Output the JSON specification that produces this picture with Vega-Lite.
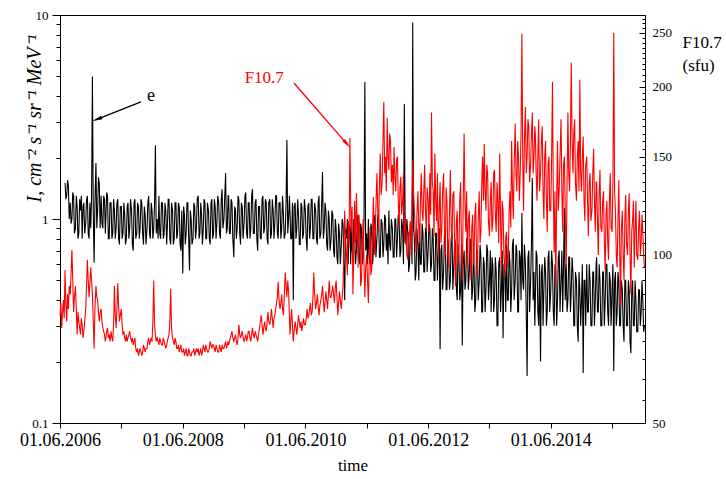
{
"$schema": "https://vega.github.io/schema/vega-lite/v6.json",
"width": 585, "height": 408,
"autosize": {"type": "none"},
"padding": {"left": 60, "top": 15, "right": 81, "bottom": 56},
"config": {"font": "Liberation Serif", "view": {"stroke": "black", "strokeWidth": 1},
 "text": {"font": "Liberation Serif"},
 "axis": {"labelFont": "Liberation Serif", "titleFont": "Liberation Serif", "domainColor": "black", "tickColor": "black", "labelColor": "black", "titleColor": "black", "grid": false, "labelFlush": false, "labelOverlap": false, "domainWidth": 1, "tickWidth": 1, "titleFontWeight": "normal"}},
"datasets": {"s": [
{"d":"2006-06-01","f":78},{"d":"2006-06-06","f":82},{"d":"2006-06-11","f":74},{"d":"2006-06-16","f":79},{"d":"2006-06-21","f":83},{"d":"2006-06-26","f":77},
{"d":"2006-07-01","e":1.5,"f":94},{"d":"2006-07-06","e":1.25,"f":82},{"d":"2006-07-11","e":1.3,"f":76},{"d":"2006-07-16","e":1.55,"f":85},{"d":"2006-07-21","e":1.45,"f":80},{"d":"2006-07-26","e":1.0,"f":88},
{"d":"2006-08-01","e":1.2,"f":85},{"d":"2006-08-06","e":0.95,"f":93},{"d":"2006-08-11","e":1.0,"f":102},{"d":"2006-08-16","e":1.35,"f":90},{"d":"2006-08-21","e":1.3,"f":79},{"d":"2006-08-26","e":0.85,"f":84},
{"d":"2006-09-01","e":0.9,"f":88},{"d":"2006-09-06","e":1.3,"f":80},{"d":"2006-09-11","e":1.15,"f":72},{"d":"2006-09-16","e":0.8,"f":79},{"d":"2006-09-21","e":0.85,"f":76},{"d":"2006-09-26","e":1.25,"f":74},
{"d":"2006-10-01","e":1.1,"f":72},{"d":"2006-10-06","e":1.3,"f":77},{"d":"2006-10-11","e":0.8,"f":75},{"d":"2006-10-16","e":1.15,"f":71},{"d":"2006-10-21","e":1.2,"f":73},{"d":"2006-10-26","e":0.85,"f":76},
{"d":"2006-11-01","e":0.95,"f":80},{"d":"2006-11-06","e":1.25,"f":88},{"d":"2006-11-11","e":1.3,"f":98},{"d":"2006-11-16","e":0.85,"f":90},{"d":"2006-11-21","e":0.8,"f":84},{"d":"2006-11-26","e":1.2,"f":89},
{"d":"2006-12-01","e":0.9,"f":95},{"d":"2006-12-06","e":1.3,"f":90},{"d":"2006-12-11","e":5.0,"f":85},{"d":"2006-12-16","e":1.1,"f":76},{"d":"2006-12-21","e":0.61,"f":68},{"d":"2006-12-26","e":1.2,"f":80},
{"d":"2007-01-01","e":1.88,"f":88},{"d":"2007-01-06","e":0.9,"f":84},{"d":"2007-01-11","e":1.1,"f":83},{"d":"2007-01-16","e":1.6,"f":79},{"d":"2007-01-21","e":1.5,"f":76},{"d":"2007-01-26","e":0.9,"f":79},
{"d":"2007-02-01","e":1.3,"f":80},{"d":"2007-02-06","e":0.95,"f":76},{"d":"2007-02-11","e":0.9,"f":74},{"d":"2007-02-16","e":1.3,"f":73},{"d":"2007-02-21","e":1.25,"f":72},{"d":"2007-02-26","e":0.85,"f":70},
{"d":"2007-03-01","e":1.0,"f":71},{"d":"2007-03-06","e":1.35,"f":73},{"d":"2007-03-11","e":1.3,"f":74},{"d":"2007-03-16","e":0.8,"f":71},{"d":"2007-03-21","e":0.8,"f":72},{"d":"2007-03-26","e":1.2,"f":70},
{"d":"2007-04-01","e":1.2,"f":73},{"d":"2007-04-06","e":0.8,"f":71},{"d":"2007-04-11","e":0.85,"f":70},{"d":"2007-04-16","e":1.25,"f":75},{"d":"2007-04-21","e":1.1,"f":88},{"d":"2007-04-26","e":0.8,"f":78},
{"d":"2007-05-01","e":0.9,"f":74},{"d":"2007-05-06","e":1.2,"f":80},{"d":"2007-05-11","e":1.25,"f":89},{"d":"2007-05-16","e":0.8,"f":81},{"d":"2007-05-21","e":0.75,"f":76},{"d":"2007-05-26","e":1.15,"f":78},
{"d":"2007-06-01","e":1.15,"f":80},{"d":"2007-06-06","e":0.8,"f":75},{"d":"2007-06-11","e":0.85,"f":72},{"d":"2007-06-16","e":1.2,"f":73},{"d":"2007-06-21","e":1.05,"f":71},{"d":"2007-06-26","e":0.75,"f":70},
{"d":"2007-07-01","e":0.8,"f":72},{"d":"2007-07-06","e":1.15,"f":70},{"d":"2007-07-11","e":1.2,"f":71},{"d":"2007-07-16","e":0.8,"f":72},{"d":"2007-07-21","e":0.9,"f":73},{"d":"2007-07-26","e":1.25,"f":71},
{"d":"2007-08-01","e":1.1,"f":70},{"d":"2007-08-06","e":0.75,"f":71},{"d":"2007-08-11","e":0.7,"f":69},{"d":"2007-08-16","e":1.2,"f":70},{"d":"2007-08-21","e":1.25,"f":71},{"d":"2007-08-26","e":0.8,"f":68},
{"d":"2007-09-01","e":0.85,"f":67},{"d":"2007-09-06","e":1.2,"f":68},{"d":"2007-09-11","e":1.15,"f":66},{"d":"2007-09-16","e":0.8,"f":67},{"d":"2007-09-21","e":0.9,"f":68},{"d":"2007-09-26","e":1.25,"f":67},
{"d":"2007-10-01","e":1.2,"f":66},{"d":"2007-10-06","e":0.85,"f":67},{"d":"2007-10-11","e":0.75,"f":69},{"d":"2007-10-16","e":1.15,"f":68},{"d":"2007-10-21","e":1.05,"f":67},{"d":"2007-10-26","e":0.75,"f":68},
{"d":"2007-11-01","e":0.9,"f":68},{"d":"2007-11-06","e":1.2,"f":70},{"d":"2007-11-11","e":1.3,"f":71},{"d":"2007-11-16","e":0.85,"f":69},{"d":"2007-11-21","e":0.8,"f":70},{"d":"2007-11-26","e":1.2,"f":71},
{"d":"2007-12-01","e":1.1,"f":70},{"d":"2007-12-06","e":0.8,"f":76},{"d":"2007-12-11","e":0.9,"f":90},{"d":"2007-12-16","e":1.2,"f":75},{"d":"2007-12-21","e":2.3,"f":72},{"d":"2007-12-26","e":0.85,"f":70},
{"d":"2008-01-01","e":1.0,"f":71},{"d":"2008-01-06","e":0.8,"f":70},{"d":"2008-01-11","e":1.3,"f":69},{"d":"2008-01-16","e":0.85,"f":71},{"d":"2008-01-21","e":0.8,"f":70},{"d":"2008-01-26","e":1.2,"f":69},
{"d":"2008-02-01","e":1.2,"f":69},{"d":"2008-02-06","e":0.8,"f":71},{"d":"2008-02-11","e":0.85,"f":70},{"d":"2008-02-16","e":1.2,"f":69},{"d":"2008-02-21","e":1.1,"f":68},{"d":"2008-02-26","e":0.75,"f":69},
{"d":"2008-03-01","e":0.9,"f":70},{"d":"2008-03-06","e":1.25,"f":71},{"d":"2008-03-11","e":1.25,"f":72},{"d":"2008-03-16","e":0.8,"f":76},{"d":"2008-03-21","e":0.75,"f":87},{"d":"2008-03-26","e":1.2,"f":74},
{"d":"2008-04-01","e":1.1,"f":71},{"d":"2008-04-06","e":0.75,"f":70},{"d":"2008-04-11","e":0.8,"f":69},{"d":"2008-04-16","e":1.2,"f":71},{"d":"2008-04-21","e":1.2,"f":70},{"d":"2008-04-26","e":0.8,"f":68},
{"d":"2008-05-01","e":0.85,"f":68},{"d":"2008-05-06","e":1.2,"f":69},{"d":"2008-05-11","e":1.15,"f":67},{"d":"2008-05-16","e":0.75,"f":68},{"d":"2008-05-21","e":0.7,"f":69},{"d":"2008-05-26","e":1.1,"f":67},
{"d":"2008-06-01","e":0.54,"f":67},{"d":"2008-06-06","e":1.15,"f":68},{"d":"2008-06-11","e":1.05,"f":66},{"d":"2008-06-16","e":0.75,"f":67},{"d":"2008-06-21","e":0.85,"f":68},{"d":"2008-06-26","e":1.2,"f":66},
{"d":"2008-07-01","e":1.2,"f":66},{"d":"2008-07-06","e":0.8,"f":68},{"d":"2008-07-11","e":0.56,"f":67},{"d":"2008-07-16","e":1.1,"f":66},{"d":"2008-07-21","e":1.0,"f":66},{"d":"2008-07-26","e":0.75,"f":67},
{"d":"2008-08-01","e":0.8,"f":67},{"d":"2008-08-06","e":1.2,"f":68},{"d":"2008-08-11","e":1.15,"f":66},{"d":"2008-08-16","e":0.8,"f":67},{"d":"2008-08-21","e":0.9,"f":68},{"d":"2008-08-26","e":1.25,"f":67},
{"d":"2008-09-01","e":1.3,"f":68},{"d":"2008-09-06","e":0.8,"f":66},{"d":"2008-09-11","e":0.85,"f":67},{"d":"2008-09-16","e":1.2,"f":68},{"d":"2008-09-21","e":1.05,"f":66},{"d":"2008-09-26","e":0.75,"f":67},
{"d":"2008-10-01","e":0.9,"f":69},{"d":"2008-10-06","e":1.25,"f":68},{"d":"2008-10-11","e":1.2,"f":67},{"d":"2008-10-16","e":0.8,"f":69},{"d":"2008-10-21","e":0.8,"f":68},{"d":"2008-10-26","e":1.2,"f":67},
{"d":"2008-11-01","e":1.1,"f":67},{"d":"2008-11-06","e":0.8,"f":68},{"d":"2008-11-11","e":0.75,"f":70},{"d":"2008-11-16","e":1.2,"f":69},{"d":"2008-11-21","e":1.25,"f":68},{"d":"2008-11-26","e":0.8,"f":69},
{"d":"2008-12-01","e":0.85,"f":69},{"d":"2008-12-06","e":1.25,"f":68},{"d":"2008-12-11","e":1.15,"f":67},{"d":"2008-12-16","e":0.8,"f":69},{"d":"2008-12-21","e":0.95,"f":68},{"d":"2008-12-26","e":1.3,"f":67},
{"d":"2009-01-01","e":1.2,"f":67},{"d":"2009-01-06","e":0.85,"f":69},{"d":"2009-01-11","e":0.8,"f":68},{"d":"2009-01-16","e":1.25,"f":67},{"d":"2009-01-21","e":1.4,"f":69},{"d":"2009-01-26","e":0.9,"f":68},
{"d":"2009-02-01","e":1.0,"f":68},{"d":"2009-02-06","e":1.3,"f":69},{"d":"2009-02-11","e":1.68,"f":70},{"d":"2009-02-16","e":0.85,"f":68},{"d":"2009-02-21","e":0.9,"f":69},{"d":"2009-02-26","e":1.3,"f":70},
{"d":"2009-03-01","e":1.3,"f":69},{"d":"2009-03-06","e":0.85,"f":70},{"d":"2009-03-11","e":0.85,"f":71},{"d":"2009-03-16","e":1.25,"f":72},{"d":"2009-03-21","e":1.2,"f":73},{"d":"2009-03-26","e":0.8,"f":71},
{"d":"2009-04-01","e":0.65,"f":70},{"d":"2009-04-06","e":1.15,"f":71},{"d":"2009-04-11","e":1.1,"f":72},{"d":"2009-04-16","e":0.8,"f":70},{"d":"2009-04-21","e":0.9,"f":69},{"d":"2009-04-26","e":1.3,"f":71},
{"d":"2009-05-01","e":1.25,"f":75},{"d":"2009-05-06","e":0.85,"f":72},{"d":"2009-05-11","e":0.75,"f":71},{"d":"2009-05-16","e":1.2,"f":72},{"d":"2009-05-21","e":1.15,"f":73},{"d":"2009-05-26","e":0.8,"f":71},
{"d":"2009-06-01","e":0.95,"f":70},{"d":"2009-06-06","e":1.3,"f":71},{"d":"2009-06-11","e":1.35,"f":72},{"d":"2009-06-16","e":0.85,"f":70},{"d":"2009-06-21","e":0.8,"f":71},{"d":"2009-06-26","e":1.2,"f":73},
{"d":"2009-07-01","e":1.2,"f":73},{"d":"2009-07-06","e":0.8,"f":71},{"d":"2009-07-11","e":0.9,"f":70},{"d":"2009-07-16","e":1.3,"f":72},{"d":"2009-07-21","e":1.4,"f":74},{"d":"2009-07-26","e":0.85,"f":72},
{"d":"2009-08-01","e":0.85,"f":71},{"d":"2009-08-06","e":1.2,"f":73},{"d":"2009-08-11","e":1.25,"f":72},{"d":"2009-08-16","e":0.8,"f":71},{"d":"2009-08-21","e":0.7,"f":70},{"d":"2009-08-26","e":1.15,"f":72},
{"d":"2009-09-01","e":1.15,"f":74},{"d":"2009-09-06","e":0.8,"f":76},{"d":"2009-09-11","e":0.8,"f":78},{"d":"2009-09-16","e":1.25,"f":75},{"d":"2009-09-21","e":1.3,"f":72},{"d":"2009-09-26","e":0.85,"f":74},
{"d":"2009-10-01","e":0.9,"f":76},{"d":"2009-10-06","e":1.25,"f":74},{"d":"2009-10-11","e":1.2,"f":73},{"d":"2009-10-16","e":0.8,"f":76},{"d":"2009-10-21","e":0.75,"f":79},{"d":"2009-10-26","e":1.2,"f":76},
{"d":"2009-11-01","e":1.25,"f":75},{"d":"2009-11-06","e":0.8,"f":77},{"d":"2009-11-11","e":0.85,"f":80},{"d":"2009-11-16","e":1.25,"f":77},{"d":"2009-11-21","e":1.1,"f":74},{"d":"2009-11-26","e":0.8,"f":77},
{"d":"2009-12-01","e":0.95,"f":78},{"d":"2009-12-06","e":1.3,"f":80},{"d":"2009-12-11","e":1.3,"f":82},{"d":"2009-12-16","e":0.85,"f":84},{"d":"2009-12-21","e":0.8,"f":89.5},{"d":"2009-12-26","e":1.2,"f":83},
{"d":"2010-01-01","e":1.2,"f":80},{"d":"2010-01-06","e":0.8,"f":82},{"d":"2010-01-11","e":0.9,"f":85},{"d":"2010-01-16","e":1.3,"f":80},{"d":"2010-01-21","e":1.05,"f":78},{"d":"2010-01-26","e":0.8,"f":84},
{"d":"2010-02-01","e":0.85,"f":93},{"d":"2010-02-06","e":1.2,"f":88},{"d":"2010-02-11","e":2.44,"f":84},{"d":"2010-02-16","e":0.85,"f":90},{"d":"2010-02-21","e":1.0,"f":86},{"d":"2010-02-26","e":1.3,"f":78},
{"d":"2010-03-01","e":1.1,"f":72},{"d":"2010-03-06","e":0.8,"f":76},{"d":"2010-03-11","e":0.8,"f":80},{"d":"2010-03-16","e":1.2,"f":75},{"d":"2010-03-21","e":0.4,"f":70},{"d":"2010-03-26","e":1.15,"f":73},
{"d":"2010-04-01","e":1.2,"f":76},{"d":"2010-04-06","e":0.8,"f":74},{"d":"2010-04-11","e":0.9,"f":72},{"d":"2010-04-16","e":1.25,"f":75},{"d":"2010-04-21","e":1.05,"f":78},{"d":"2010-04-26","e":0.75,"f":76},
{"d":"2010-05-01","e":0.75,"f":74},{"d":"2010-05-06","e":1.2,"f":76},{"d":"2010-05-11","e":1.15,"f":73},{"d":"2010-05-16","e":0.8,"f":75},{"d":"2010-05-21","e":0.85,"f":77},{"d":"2010-05-26","e":1.25,"f":75},
{"d":"2010-06-01","e":1.1,"f":75},{"d":"2010-06-06","e":0.8,"f":77},{"d":"2010-06-11","e":0.7,"f":80},{"d":"2010-06-16","e":1.15,"f":77},{"d":"2010-06-21","e":1.2,"f":78},{"d":"2010-06-26","e":0.8,"f":80},
{"d":"2010-07-01","e":0.9,"f":82},{"d":"2010-07-06","e":1.25,"f":78},{"d":"2010-07-11","e":1.25,"f":79},{"d":"2010-07-16","e":0.8,"f":84},{"d":"2010-07-21","e":0.8,"f":93},{"d":"2010-07-26","e":1.2,"f":85},
{"d":"2010-08-01","e":1.1,"f":80},{"d":"2010-08-06","e":0.8,"f":82},{"d":"2010-08-11","e":0.75,"f":85},{"d":"2010-08-16","e":1.2,"f":81},{"d":"2010-08-21","e":1.3,"f":78},{"d":"2010-08-26","e":0.8,"f":81},
{"d":"2010-09-01","e":0.85,"f":83},{"d":"2010-09-06","e":1.2,"f":85},{"d":"2010-09-11","e":1.7,"f":88},{"d":"2010-09-16","e":0.8,"f":83},{"d":"2010-09-21","e":0.9,"f":79},{"d":"2010-09-26","e":1.2,"f":82},
{"d":"2010-10-01","e":1.1,"f":86},{"d":"2010-10-06","e":0.75,"f":83},{"d":"2010-10-11","e":0.7,"f":80},{"d":"2010-10-16","e":1.1,"f":85},{"d":"2010-10-21","e":1.0,"f":90},{"d":"2010-10-26","e":0.7,"f":84},
{"d":"2010-11-01","e":0.8,"f":84},{"d":"2010-11-06","e":1.1,"f":86},{"d":"2010-11-11","e":1.05,"f":88},{"d":"2010-11-16","e":0.7,"f":85},{"d":"2010-11-21","e":0.65,"f":82},{"d":"2010-11-26","e":1.0,"f":87},
{"d":"2010-12-01","e":0.9,"f":90},{"d":"2010-12-06","e":0.65,"f":84},{"d":"2010-12-11","e":0.6,"f":78},{"d":"2010-12-16","e":0.95,"f":82},{"d":"2010-12-21","e":0.85,"f":86},{"d":"2010-12-26","e":0.6,"f":83},
{"d":"2011-01-01","e":0.75,"f":80},{"d":"2011-01-06","e":1.0,"f":84},{"d":"2011-01-11","e":0.95,"f":88},{"d":"2011-01-16","e":0.6,"f":100},{"d":"2011-01-21","e":0.4,"f":120},{"d":"2011-01-26","e":0.9,"f":108},
{"d":"2011-02-01","e":0.8,"f":100},{"d":"2011-02-06","e":1.0,"f":92},{"d":"2011-02-11","e":0.6,"f":115},{"d":"2011-02-16","e":0.95,"f":105},{"d":"2011-02-21","e":0.9,"f":162},{"d":"2011-02-26","e":0.6,"f":120},
{"d":"2011-03-01","e":1.0,"f":110},{"d":"2011-03-06","e":0.7,"f":122},{"d":"2011-03-11","e":0.65,"f":85},{"d":"2011-03-16","e":1.0,"f":100},{"d":"2011-03-21","e":0.9,"f":125},{"d":"2011-03-26","e":0.6,"f":105},
{"d":"2011-04-01","e":0.7,"f":129},{"d":"2011-04-06","e":1.0,"f":110},{"d":"2011-04-11","e":1.05,"f":95},{"d":"2011-04-16","e":0.65,"f":118},{"d":"2011-04-21","e":0.6,"f":110},{"d":"2011-04-26","e":0.95,"f":88},
{"d":"2011-05-01","e":0.9,"f":90},{"d":"2011-05-06","e":0.6,"f":105},{"d":"2011-05-11","e":0.65,"f":116},{"d":"2011-05-16","e":1.0,"f":96},{"d":"2011-05-21","e":4.7,"f":84},{"d":"2011-05-26","e":0.7,"f":95},
{"d":"2011-06-01","e":0.85,"f":100},{"d":"2011-06-06","e":0.6,"f":90},{"d":"2011-06-11","e":1.0,"f":82},{"d":"2011-06-16","e":0.65,"f":98},{"d":"2011-06-21","e":0.6,"f":112},{"d":"2011-06-26","e":0.95,"f":92},
{"d":"2011-07-01","e":0.9,"f":95},{"d":"2011-07-06","e":0.6,"f":110},{"d":"2011-07-11","e":0.7,"f":127},{"d":"2011-07-16","e":1.0,"f":100},{"d":"2011-07-21","e":1.05,"f":105},{"d":"2011-07-26","e":0.65,"f":122},
{"d":"2011-08-01","e":0.8,"f":140},{"d":"2011-08-06","e":1.05,"f":120},{"d":"2011-08-11","e":1.0,"f":110},{"d":"2011-08-16","e":0.65,"f":135},{"d":"2011-08-21","e":0.65,"f":152},{"d":"2011-08-26","e":1.0,"f":128},
{"d":"2011-09-01","e":0.95,"f":135},{"d":"2011-09-06","e":0.65,"f":160},{"d":"2011-09-11","e":0.75,"f":188},{"d":"2011-09-16","e":1.05,"f":140},{"d":"2011-09-21","e":1.0,"f":150},{"d":"2011-09-26","e":0.7,"f":130},
{"d":"2011-10-01","e":0.85,"f":176},{"d":"2011-10-06","e":0.6,"f":150},{"d":"2011-10-11","e":1.1,"f":142},{"d":"2011-10-16","e":0.75,"f":165},{"d":"2011-10-21","e":0.7,"f":160},{"d":"2011-10-26","e":1.0,"f":135},
{"d":"2011-11-01","e":0.9,"f":145},{"d":"2011-11-06","e":0.65,"f":128},{"d":"2011-11-11","e":0.65,"f":156},{"d":"2011-11-16","e":1.0,"f":138},{"d":"2011-11-21","e":1.0,"f":130},{"d":"2011-11-26","e":0.65,"f":148},
{"d":"2011-12-01","e":0.8,"f":150},{"d":"2011-12-06","e":1.05,"f":125},{"d":"2011-12-11","e":1.0,"f":112},{"d":"2011-12-16","e":0.65,"f":132},{"d":"2011-12-21","e":0.7,"f":138},{"d":"2011-12-26","e":1.0,"f":118},
{"d":"2012-01-01","e":0.9,"f":125},{"d":"2012-01-06","e":0.6,"f":140},{"d":"2012-01-11","e":3.66,"f":105},{"d":"2012-01-16","e":0.9,"f":118},{"d":"2012-01-21","e":0.75,"f":110},{"d":"2012-01-26","e":1.0,"f":100},
{"d":"2012-02-01","e":0.85,"f":98},{"d":"2012-02-06","e":0.55,"f":110},{"d":"2012-02-11","e":0.6,"f":108},{"d":"2012-02-16","e":0.95,"f":115},{"d":"2012-02-21","e":0.9,"f":100},{"d":"2012-02-26","e":0.6,"f":125},
{"d":"2012-03-01","e":9.2,"f":148},{"d":"2012-03-06","e":0.9,"f":130},{"d":"2012-03-11","e":0.8,"f":120},{"d":"2012-03-16","e":0.5,"f":110},{"d":"2012-03-21","e":0.55,"f":101},{"d":"2012-03-26","e":0.9,"f":118},
{"d":"2012-04-01","e":0.75,"f":130},{"d":"2012-04-06","e":0.5,"f":112},{"d":"2012-04-11","e":0.95,"f":105},{"d":"2012-04-16","e":0.6,"f":125},{"d":"2012-04-21","e":0.6,"f":140},{"d":"2012-04-26","e":0.95,"f":120},
{"d":"2012-05-01","e":0.85,"f":115},{"d":"2012-05-06","e":0.55,"f":130},{"d":"2012-05-11","e":0.55,"f":145},{"d":"2012-05-16","e":0.9,"f":120},{"d":"2012-05-21","e":0.9,"f":110},{"d":"2012-05-26","e":0.55,"f":132},
{"d":"2012-06-01","e":0.7,"f":125},{"d":"2012-06-06","e":0.95,"f":110},{"d":"2012-06-11","e":0.9,"f":140},{"d":"2012-06-16","e":0.55,"f":118},{"d":"2012-06-21","e":0.6,"f":180},{"d":"2012-06-26","e":0.9,"f":135},
{"d":"2012-07-01","e":0.8,"f":130},{"d":"2012-07-06","e":0.5,"f":108},{"d":"2012-07-11","e":0.5,"f":152},{"d":"2012-07-16","e":0.85,"f":125},{"d":"2012-07-21","e":0.85,"f":115},{"d":"2012-07-26","e":0.5,"f":140},
{"d":"2012-08-01","e":0.7,"f":98},{"d":"2012-08-06","e":0.9,"f":120},{"d":"2012-08-11","e":0.23,"f":135},{"d":"2012-08-16","e":0.7,"f":105},{"d":"2012-08-21","e":0.75,"f":110},{"d":"2012-08-26","e":0.45,"f":130},
{"d":"2012-09-01","e":0.55,"f":140},{"d":"2012-09-06","e":0.85,"f":112},{"d":"2012-09-11","e":0.8,"f":100},{"d":"2012-09-16","e":0.45,"f":132},{"d":"2012-09-21","e":0.45,"f":125},{"d":"2012-09-26","e":0.8,"f":100},
{"d":"2012-10-01","e":0.7,"f":95},{"d":"2012-10-06","e":0.45,"f":120},{"d":"2012-10-11","e":0.5,"f":142},{"d":"2012-10-16","e":0.8,"f":112},{"d":"2012-10-21","e":0.85,"f":105},{"d":"2012-10-26","e":0.45,"f":128},
{"d":"2012-11-01","e":0.6,"f":130},{"d":"2012-11-06","e":0.8,"f":100},{"d":"2012-11-11","e":0.75,"f":88},{"d":"2012-11-16","e":0.45,"f":115},{"d":"2012-11-21","e":0.4,"f":120},{"d":"2012-11-26","e":0.75,"f":96},
{"d":"2012-12-01","e":0.65,"f":100},{"d":"2012-12-06","e":0.4,"f":125},{"d":"2012-12-11","e":0.45,"f":135},{"d":"2012-12-16","e":0.75,"f":105},{"d":"2012-12-21","e":0.24,"f":90},{"d":"2012-12-26","e":0.6,"f":120},
{"d":"2013-01-01","e":0.7,"f":165},{"d":"2013-01-06","e":0.45,"f":125},{"d":"2013-01-11","e":0.5,"f":110},{"d":"2013-01-16","e":0.8,"f":130},{"d":"2013-01-21","e":0.8,"f":95},{"d":"2013-01-26","e":0.45,"f":115},
{"d":"2013-02-01","e":0.55,"f":120},{"d":"2013-02-06","e":0.8,"f":100},{"d":"2013-02-11","e":0.75,"f":90},{"d":"2013-02-16","e":0.4,"f":112},{"d":"2013-02-21","e":0.45,"f":118},{"d":"2013-02-26","e":0.75,"f":96},
{"d":"2013-03-01","e":0.6,"f":100},{"d":"2013-03-06","e":0.35,"f":118},{"d":"2013-03-11","e":0.4,"f":124},{"d":"2013-03-16","e":0.7,"f":100},{"d":"2013-03-21","e":0.7,"f":92},{"d":"2013-03-26","e":0.4,"f":115},
{"d":"2013-04-01","e":0.5,"f":130},{"d":"2013-04-06","e":0.75,"f":105},{"d":"2013-04-11","e":0.65,"f":110},{"d":"2013-04-16","e":0.35,"f":135},{"d":"2013-04-21","e":0.35,"f":150},{"d":"2013-04-26","e":0.65,"f":125},
{"d":"2013-05-01","e":0.6,"f":158},{"d":"2013-05-06","e":0.35,"f":130},{"d":"2013-05-11","e":0.45,"f":120},{"d":"2013-05-16","e":0.75,"f":145},{"d":"2013-05-21","e":0.7,"f":140},{"d":"2013-05-26","e":0.4,"f":115},
{"d":"2013-06-01","e":0.5,"f":108},{"d":"2013-06-06","e":0.7,"f":125},{"d":"2013-06-11","e":0.35,"f":135},{"d":"2013-06-16","e":0.65,"f":110},{"d":"2013-06-21","e":0.6,"f":115},{"d":"2013-06-26","e":0.35,"f":140},
{"d":"2013-07-01","e":0.4,"f":142},{"d":"2013-07-06","e":0.65,"f":118},{"d":"2013-07-11","e":0.55,"f":110},{"d":"2013-07-16","e":0.3,"f":135},{"d":"2013-07-21","e":0.3,"f":125},{"d":"2013-07-26","e":0.6,"f":105},
{"d":"2013-08-01","e":0.65,"f":152},{"d":"2013-08-06","e":0.35,"f":115},{"d":"2013-08-11","e":0.45,"f":95},{"d":"2013-08-16","e":0.7,"f":125},{"d":"2013-08-21","e":0.26,"f":120},{"d":"2013-08-26","e":0.6,"f":100},
{"d":"2013-09-01","e":0.55,"f":91},{"d":"2013-09-06","e":0.35,"f":108},{"d":"2013-09-11","e":0.75,"f":110},{"d":"2013-09-16","e":0.4,"f":95},{"d":"2013-09-21","e":0.4,"f":100},{"d":"2013-09-26","e":0.7,"f":120},
{"d":"2013-10-01","e":0.6,"f":130},{"d":"2013-10-06","e":0.35,"f":112},{"d":"2013-10-11","e":0.45,"f":160},{"d":"2013-10-16","e":0.75,"f":130},{"d":"2013-10-21","e":0.8,"f":116},{"d":"2013-10-26","e":0.4,"f":145},
{"d":"2013-11-01","e":0.5,"f":172},{"d":"2013-11-06","e":0.75,"f":140},{"d":"2013-11-11","e":0.7,"f":130},{"d":"2013-11-16","e":0.35,"f":160},{"d":"2013-11-21","e":0.35,"f":150},{"d":"2013-11-26","e":0.7,"f":125},
{"d":"2013-12-01","e":0.65,"f":140},{"d":"2013-12-06","e":0.4,"f":165},{"d":"2013-12-11","e":1.07,"f":249},{"d":"2013-12-16","e":0.5,"f":150},{"d":"2013-12-21","e":0.45,"f":120},{"d":"2013-12-26","e":0.75,"f":160},
{"d":"2014-01-01","e":0.6,"f":184},{"d":"2014-01-06","e":0.35,"f":140},{"d":"2014-01-11","e":0.17,"f":150},{"d":"2014-01-16","e":0.65,"f":175},{"d":"2014-01-21","e":0.7,"f":170},{"d":"2014-01-26","e":0.35,"f":135},
{"d":"2014-02-01","e":0.5,"f":145},{"d":"2014-02-06","e":0.75,"f":165},{"d":"2014-02-11","e":1.59,"f":180},{"d":"2014-02-16","e":0.4,"f":140},{"d":"2014-02-21","e":0.55,"f":150},{"d":"2014-02-26","e":0.3,"f":170},
{"d":"2014-03-01","e":0.4,"f":165},{"d":"2014-03-06","e":0.7,"f":140},{"d":"2014-03-11","e":0.65,"f":125},{"d":"2014-03-16","e":0.35,"f":150},{"d":"2014-03-21","e":0.3,"f":175},{"d":"2014-03-26","e":0.6,"f":130},
{"d":"2014-04-01","e":0.2,"f":140},{"d":"2014-04-06","e":0.55,"f":160},{"d":"2014-04-11","e":0.6,"f":170},{"d":"2014-04-16","e":0.3,"f":130},{"d":"2014-04-21","e":0.45,"f":116},{"d":"2014-04-26","e":0.65,"f":150},
{"d":"2014-05-01","e":0.55,"f":160},{"d":"2014-05-06","e":0.3,"f":125},{"d":"2014-05-11","e":0.35,"f":110},{"d":"2014-05-16","e":0.65,"f":145},{"d":"2014-05-21","e":0.7,"f":150},{"d":"2014-05-26","e":0.35,"f":120},
{"d":"2014-06-01","e":0.45,"f":120},{"d":"2014-06-06","e":0.7,"f":150},{"d":"2014-06-11","e":0.6,"f":204},{"d":"2014-06-16","e":0.35,"f":130},{"d":"2014-06-21","e":0.3,"f":101},{"d":"2014-06-26","e":0.6,"f":130},
{"d":"2014-07-01","e":0.55,"f":88},{"d":"2014-07-06","e":0.3,"f":125},{"d":"2014-07-11","e":0.4,"f":160},{"d":"2014-07-16","e":0.65,"f":120},{"d":"2014-07-21","e":0.7,"f":130},{"d":"2014-07-26","e":0.35,"f":150},
{"d":"2014-08-01","e":0.5,"f":175},{"d":"2014-08-06","e":0.7,"f":130},{"d":"2014-08-11","e":0.35,"f":110},{"d":"2014-08-16","e":0.6,"f":145},{"d":"2014-08-21","e":1.13,"f":150},{"d":"2014-08-26","e":0.4,"f":120},
{"d":"2014-09-01","e":0.6,"f":95},{"d":"2014-09-06","e":0.35,"f":135},{"d":"2014-09-11","e":0.4,"f":180},{"d":"2014-09-16","e":0.65,"f":140},{"d":"2014-09-21","e":0.65,"f":130},{"d":"2014-09-26","e":0.35,"f":160},
{"d":"2014-10-01","e":0.45,"f":221},{"d":"2014-10-06","e":0.65,"f":160},{"d":"2014-10-11","e":0.55,"f":140},{"d":"2014-10-16","e":0.3,"f":165},{"d":"2014-10-21","e":0.3,"f":175},{"d":"2014-10-26","e":0.55,"f":135},
{"d":"2014-11-01","e":0.5,"f":125},{"d":"2014-11-06","e":0.3,"f":150},{"d":"2014-11-11","e":0.25,"f":160},{"d":"2014-11-16","e":0.55,"f":130},{"d":"2014-11-21","e":0.45,"f":206},{"d":"2014-11-26","e":0.3,"f":140},
{"d":"2014-12-01","e":0.4,"f":130},{"d":"2014-12-06","e":0.6,"f":150},{"d":"2014-12-11","e":0.176,"f":163},{"d":"2014-12-16","e":0.5,"f":125},{"d":"2014-12-21","e":0.5,"f":115},{"d":"2014-12-26","e":0.3,"f":145},
{"d":"2015-01-01","e":0.6,"f":150},{"d":"2015-01-06","e":0.35,"f":125},{"d":"2015-01-11","e":0.35,"f":108},{"d":"2015-01-16","e":0.6,"f":135},{"d":"2015-01-21","e":0.5,"f":140},{"d":"2015-01-26","e":0.3,"f":115},
{"d":"2015-02-01","e":0.3,"f":120},{"d":"2015-02-06","e":0.55,"f":140},{"d":"2015-02-11","e":0.55,"f":155},{"d":"2015-02-16","e":0.3,"f":125},{"d":"2015-02-21","e":0.4,"f":110},{"d":"2015-02-26","e":0.6,"f":135},
{"d":"2015-03-01","e":0.65,"f":135},{"d":"2015-03-06","e":0.35,"f":115},{"d":"2015-03-11","e":0.35,"f":100},{"d":"2015-03-16","e":0.6,"f":128},{"d":"2015-03-21","e":0.5,"f":142},{"d":"2015-03-26","e":0.3,"f":112},
{"d":"2015-04-01","e":0.3,"f":110},{"d":"2015-04-06","e":0.55,"f":125},{"d":"2015-04-11","e":0.55,"f":130},{"d":"2015-04-16","e":0.3,"f":105},{"d":"2015-04-21","e":0.4,"f":94},{"d":"2015-04-26","e":0.6,"f":118},
{"d":"2015-05-01","e":0.6,"f":125},{"d":"2015-05-06","e":0.35,"f":105},{"d":"2015-05-11","e":0.3,"f":98},{"d":"2015-05-16","e":0.55,"f":125},{"d":"2015-05-21","e":0.5,"f":140},{"d":"2015-05-26","e":0.3,"f":112},
{"d":"2015-06-01","e":0.45,"f":110},{"d":"2015-06-06","e":0.6,"f":135},{"d":"2015-06-11","e":0.18,"f":250},{"d":"2015-06-16","e":0.5,"f":130},{"d":"2015-06-21","e":0.55,"f":120},{"d":"2015-06-26","e":0.3,"f":100},
{"d":"2015-07-01","e":0.35,"f":95},{"d":"2015-07-06","e":0.55,"f":115},{"d":"2015-07-11","e":0.5,"f":136},{"d":"2015-07-16","e":0.3,"f":105},{"d":"2015-07-21","e":0.3,"f":81},{"d":"2015-07-26","e":0.5,"f":110},
{"d":"2015-08-01","e":0.45,"f":120},{"d":"2015-08-06","e":0.3,"f":100},{"d":"2015-08-11","e":0.25,"f":90},{"d":"2015-08-16","e":0.5,"f":115},{"d":"2015-08-21","e":0.5,"f":128},{"d":"2015-08-26","e":0.3,"f":105},
{"d":"2015-09-01","e":0.3,"f":100},{"d":"2015-09-06","e":0.5,"f":120},{"d":"2015-09-11","e":0.45,"f":129},{"d":"2015-09-16","e":0.25,"f":100},{"d":"2015-09-21","e":0.22,"f":85},{"d":"2015-09-26","e":0.45,"f":110},
{"d":"2015-10-01","e":0.5,"f":115},{"d":"2015-10-06","e":0.3,"f":125},{"d":"2015-10-11","e":0.3,"f":95},{"d":"2015-10-16","e":0.5,"f":110},{"d":"2015-10-21","e":0.4,"f":125},{"d":"2015-10-26","e":0.28,"f":100},
{"d":"2015-11-01","e":0.28,"f":98},{"d":"2015-11-06","e":0.45,"f":112},{"d":"2015-11-11","e":0.45,"f":120},{"d":"2015-11-16","e":0.3,"f":100},{"d":"2015-11-21","e":0.35,"f":105},{"d":"2015-11-26","e":0.5,"f":118},
{"d":"2015-12-01","e":0.4,"f":110},{"d":"2015-12-06","e":0.28,"f":100},{"d":"2015-12-11","e":0.3,"f":95}
]},
"encoding": {
 "x": {"field": "d", "type": "temporal",
  "scale": {"type": "utc", "domain": [{"year": 2006, "month": 6, "date": 1, "utc": true}, {"year": 2015, "month": 12, "date": 14, "utc": true}]},
  "axis": {"title": "time", "titleFont": "Liberation Serif", "titleFontSize": 17, "titlePadding": 8, "labelFont": "Liberation Serif", "labelFontSize": 18, "tickSize": 5, "labelPadding": 3,
   "values": [{"year":2006,"month":6,"date":1,"utc":true},{"year":2007,"month":6,"date":1,"utc":true},{"year":2008,"month":6,"date":1,"utc":true},{"year":2009,"month":6,"date":1,"utc":true},{"year":2010,"month":6,"date":1,"utc":true},{"year":2011,"month":6,"date":1,"utc":true},{"year":2012,"month":6,"date":1,"utc":true},{"year":2013,"month":6,"date":1,"utc":true},{"year":2014,"month":6,"date":1,"utc":true},{"year":2015,"month":6,"date":1,"utc":true}],
   "labelExpr": "utcyear(datum.value) % 2 == 0 ? utcFormat(datum.value, '%d.%m.%Y') : ''"}}
},
"layer": [
 {"encoding": {"y": {"field": "e", "type": "quantitative", "scale": {"type": "log", "domain": [0.1, 10]},
   "axis": {"orient": "left", "values": [0.1,0.2,0.3,0.4,0.5,0.6,0.7,0.8,0.9,1,2,3,4,5,6,7,8,9,10],
    "labelExpr": "datum.value == 0.1 ? '0.1' : datum.value == 1 ? '1' : datum.value == 10 ? '10' : ''",
    "labelFont": "Liberation Serif", "labelFontSize": 13, "labelPadding": 4,
    "tickSize": {"condition": {"test": "datum.value == 0.1 || datum.value == 1 || datum.value == 10", "value": 8}, "value": 4},
    "title": "I, cm⁻² s⁻¹ sr⁻¹ MeV⁻¹", "titleFont": "Liberation Serif", "titleFontSize": 20, "titleFontStyle": "italic", "titleAngle": -90,
    "titleX": -20, "titleY": 103, "titleAlign": "center", "titleBaseline": "alphabetic"}}},
  "layer": [
   {"data": {"name": "s"}, "mark": {"type": "line", "color": "black", "strokeWidth": 1.1}},
   {"data": {"values": [{"d": "2007-09-26", "e": 3.75, "d2": "2007-01-06", "e2": 3.08}], "format": {"parse": {"d": "date", "d2": "date"}}},
    "mark": {"type": "rule", "color": "black", "strokeWidth": 1.3},
    "encoding": {"x2": {"field": "d2"}, "y2": {"field": "e2"}}},
   {"data": {"values": [{"d": "2007-01-06", "e": 3.08}], "format": {"parse": {"d": "date"}}},
    "mark": {"type": "point", "shape": "M0,-1L0.35,1L-0.35,1Z", "filled": true, "color": "black", "size": 110, "angle": 249, "opacity": 1}},
   {"data": {"values": [{"d": "2007-11-25", "e": 4.01}], "format": {"parse": {"d": "date"}}},
    "mark": {"type": "text", "text": "e", "font": "Liberation Serif", "fontSize": 18, "color": "black", "align": "center", "baseline": "middle"}},
   {"data": {"values": [{"d": "2010-03-25", "e": 4.64, "d2": "2011-02-04", "e2": 2.33}], "format": {"parse": {"d": "date", "d2": "date"}}},
    "mark": {"type": "rule", "color": "#ff0000", "strokeWidth": 1.3},
    "encoding": {"x2": {"field": "d2"}, "y2": {"field": "e2"}}},
   {"data": {"values": [{"d": "2011-02-04", "e": 2.33}], "format": {"parse": {"d": "date"}}},
    "mark": {"type": "point", "shape": "M0,-1L0.35,1L-0.35,1Z", "filled": true, "color": "#ff0000", "size": 110, "angle": 139, "opacity": 1}},
   {"data": {"values": [{"d": "2009-09-29", "e": 4.91}], "format": {"parse": {"d": "date"}}},
    "mark": {"type": "text", "text": "F10.7", "font": "Liberation Serif", "fontSize": 17, "color": "#ff0000", "align": "center", "baseline": "middle"}}
  ]},
 {"data": {"name": "s"}, "mark": {"type": "line", "color": "#ff0000", "strokeWidth": 1.1},
  "encoding": {"y": {"field": "f", "type": "quantitative", "scale": {"type": "log", "domain": [50, 269]},
   "axis": {"orient": "right", "values": [50,55,60,65,70,75,80,85,90,95,100,105,110,115,120,125,130,135,140,145,150,155,160,165,170,175,180,185,190,195,200,205,210,215,220,225,230,235,240,245,250,255,260,265],
    "labelExpr": "datum.value % 50 == 0 ? format(datum.value, 'd') : ''",
    "labelFont": "Liberation Serif", "labelFontSize": 13, "labelPadding": 13,
    "tickSize": {"condition": {"test": "datum.value % 50 == 0", "value": -6}, "value": -3},
    "title": ["F10.7", "(sfu)"], "titleFont": "Liberation Serif", "titleFontSize": 17, "titleAngle": 0, "titleX": 37, "titleY": 19,
    "titleAlign": "left", "titleBaseline": "top", "titleLineHeight": 23}}}}
],
"resolve": {"scale": {"y": "independent"}}
}
